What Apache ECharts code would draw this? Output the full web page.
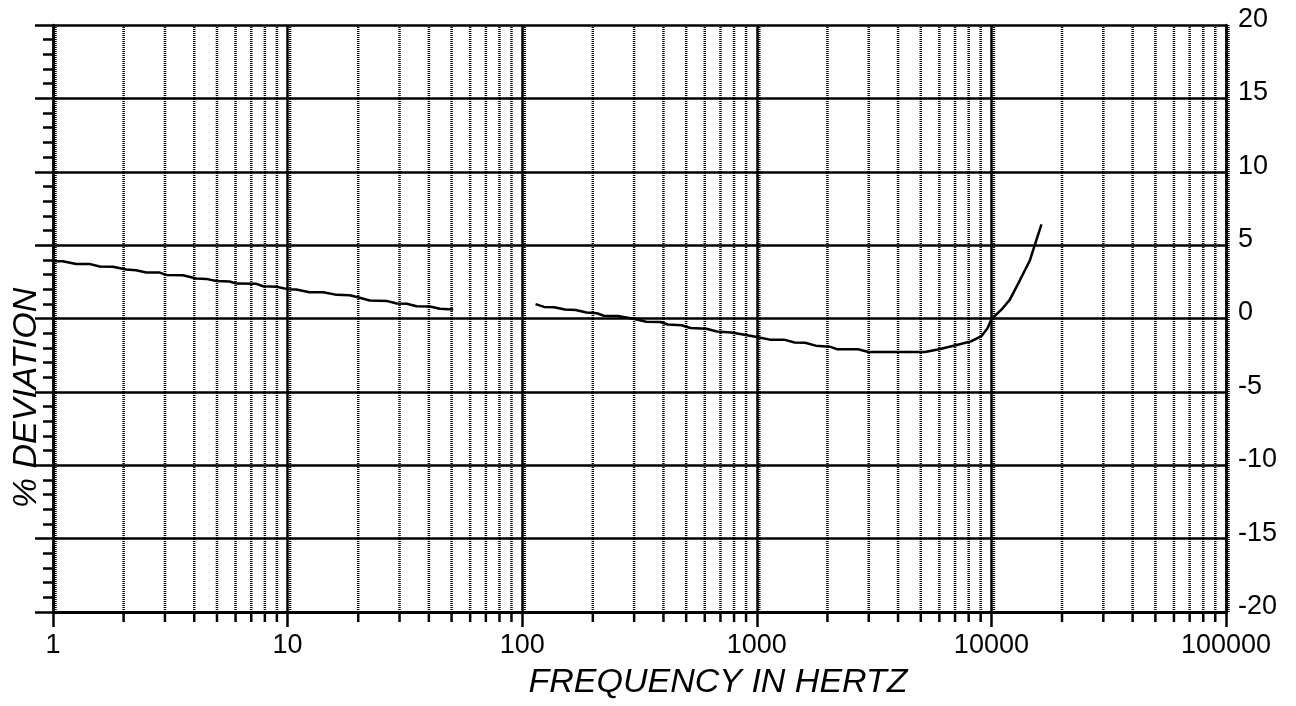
<!DOCTYPE html>
<html>
<head>
<meta charset="utf-8">
<script src="https://cdn.jsdelivr.net/npm/echarts@6/dist/echarts.min.js"></script>
<style>
html,body{margin:0;padding:0;background:#fff;}
#chart{width:1296px;height:706px;}
</style>
</head>
<body>
<div id="chart"></div>
<script>
// ---- data ----
const xTickValues = [1, 10, 100, 1000, 10000, 100000];
const xTickLabels = ['1', '10', '100', '1000', '10000', '100000'];
const yTickValues = [-20, -15, -10, -5, 0, 5, 10, 15, 20];
const yTickLabels = ['-20', '-15', '-10', '-5', '0', '5', '10', '15', '20'];
const minorFreqs = [2,3,4,5,6,7,8,9,
  20,30,40,50,60,70,80,90,
  200,300,400,500,600,700,800,900,
  2000,3000,4000,5000,6000,7000,8000,9000,
  20000,30000,40000,50000,60000,70000,80000,90000];

const lowBandFreq = [1.0, 1.10, 1.256, 1.43, 1.58, 1.80, 2.05, 2.26, 2.50, 2.85, 3.04, 3.58, 4.08, 4.50, 4.97, 5.66, 6.05, 7.36, 7.86, 8.96, 10.0, 10.9, 12.4, 14.2, 16.2, 18.4, 20.3, 22.4, 26.4, 29.2, 32.2, 35.5, 40.4, 44.6, 50.8];
const lowBandDev  = [3.90, 3.90, 3.72, 3.72, 3.54, 3.52, 3.34, 3.29, 3.13, 3.13, 2.97, 2.95, 2.72, 2.70, 2.56, 2.52, 2.38, 2.36, 2.20, 2.16, 2.00, 1.97, 1.79, 1.79, 1.61, 1.59, 1.41, 1.23, 1.20, 1.02, 1.00, 0.84, 0.82, 0.66, 0.61];

const highBandFreq = [114, 124, 137, 152, 169, 188, 208, 223, 256, 305, 338, 388, 417, 478, 521, 609, 676, 776, 861, 989, 1136, 1306, 1449, 1607, 1783, 2047, 2194, 2701, 2997, 5212, 5985, 7120, 8180, 9080, 9640, 10000, 11030, 11970, 13120, 14580, 15300, 16350];
const highBandDev  = [0.98, 0.79, 0.77, 0.62, 0.58, 0.41, 0.36, 0.19, 0.17, -0.05, -0.22, -0.24, -0.41, -0.46, -0.65, -0.70, -0.89, -0.96, -1.08, -1.25, -1.44, -1.44, -1.63, -1.65, -1.85, -1.92, -2.09, -2.09, -2.28, -2.28, -2.09, -1.80, -1.56, -1.20, -0.65, -0.05, 0.60, 1.27, 2.50, 3.95, 5.00, 6.41];

const xTitle = 'FREQUENCY IN HERTZ';
const yTitle = '% DEVIATION';

// ---- chart ----
const FONT = 'Liberation Sans';
function xLabel(v) {
  const i = xTickValues.findIndex(t => Math.abs(Math.log10(t) - Math.log10(v)) < 1e-6);
  return i >= 0 ? xTickLabels[i] : '';
}
function yLabel(v) {
  const i = yTickValues.findIndex(t => Math.abs(t - v) < 1e-6);
  return i >= 0 ? yTickLabels[i] : '';
}
const zip = (a, b) => a.map((v, i) => [v, b[i]]);
const DOT = {stroke: '#000', lineWidth: 2.5, lineDash: [1, 1]};

const chart = echarts.init(document.getElementById('chart'), null, {renderer: 'canvas'});
const option = {
  animation: false,
  backgroundColor: '#fff',
  grid: {left: 53, right: 70, top: 25, bottom: 94, containLabel: false},
  xAxis: {
    type: 'log', logBase: 10, min: 1, max: 100000,
    axisLine: {show: true, onZero: false, lineStyle: {color: '#000', width: 3}},
    axisTick: {show: true, length: 15, lineStyle: {color: '#000', width: 2.5}},
    axisLabel: {margin: 20, fontSize: 27, color: '#000', fontFamily: FONT, formatter: xLabel},
    splitLine: {show: true, lineStyle: {color: '#000', width: 2.5}},
    minorTick: {show: false}, minorSplitLine: {show: false}
  },
  yAxis: [
    {
      type: 'value', position: 'left', min: -20, max: 20, interval: 5,
      axisLine: {show: true, onZero: false, lineStyle: {color: '#000', width: 2.5}},
      axisTick: {show: true, length: 18, lineStyle: {color: '#000', width: 2.5}},
      minorTick: {show: true, splitNumber: 5, length: 10, lineStyle: {color: '#000', width: 2.5}},
      axisLabel: {show: false},
      splitLine: {show: true, lineStyle: {color: '#000', width: 2.5}}
    },
    {
      type: 'value', position: 'right', min: -20, max: 20, interval: 5,
      axisLine: {show: true, onZero: false, lineStyle: {color: '#000', width: 2.5}},
      axisTick: {show: false},
      axisLabel: {show: true, margin: 12, fontSize: 27, color: '#000', fontFamily: FONT,
                  verticalAlign: 'bottom', lineHeight: 11, formatter: yLabel},
      splitLine: {show: false}
    }
  ],
  series: [
    {
      // minor (2..9) gridlines with their short ticks below the axis
      type: 'custom', xAxisIndex: 0, yAxisIndex: 0, silent: true, z: 1,
      data: minorFreqs.map(f => [f, 0]),
      renderItem: function (params, api) {
        const x = api.value(0);
        const top = api.coord([x, 20]);
        const bot = api.coord([x, -20]);
        return {
          type: 'group',
          children: [
            {type: 'line', shape: {x1: top[0], y1: top[1], x2: bot[0], y2: bot[1]}, style: DOT},
            {type: 'line', shape: {x1: bot[0], y1: bot[1], x2: bot[0], y2: bot[1] + 10},
             style: {stroke: '#000', lineWidth: 2.5}}
          ]
        };
      }
    },
    {
      // dotted companion line just right of each decade line
      type: 'custom', xAxisIndex: 0, yAxisIndex: 0, silent: true, z: 1,
      data: xTickValues.map(f => [f, 0]),
      renderItem: function (params, api) {
        const x = api.value(0);
        const top = api.coord([x, 20]);
        const bot = api.coord([x, -20]);
        return {type: 'line', shape: {x1: top[0] + 2.5, y1: top[1], x2: bot[0] + 2.5, y2: bot[1]}, style: DOT};
      }
    },
    {
      type: 'line', name: 'low', xAxisIndex: 0, yAxisIndex: 0, z: 5,
      showSymbol: false, symbol: 'none',
      lineStyle: {color: '#000', width: 2.5},
      data: zip(lowBandFreq, lowBandDev)
    },
    {
      type: 'line', name: 'high', xAxisIndex: 0, yAxisIndex: 0, z: 5,
      showSymbol: false, symbol: 'none',
      lineStyle: {color: '#000', width: 2.5},
      data: zip(highBandFreq, highBandDev)
    }
  ],
  graphic: [
    {type: 'text', x: 718, y: 683, silent: true,
     style: {text: xTitle, font: 'italic 34px "Liberation Sans"', fill: '#000', align: 'center', verticalAlign: 'middle'}},
    {type: 'text', x: 27, y: 398, rotation: Math.PI / 2, silent: true,
     style: {text: yTitle, font: 'italic 34px "Liberation Sans"', fill: '#000', align: 'center', verticalAlign: 'middle'}}
  ]
};
chart.setOption(option);
</script>
</body>
</html>
